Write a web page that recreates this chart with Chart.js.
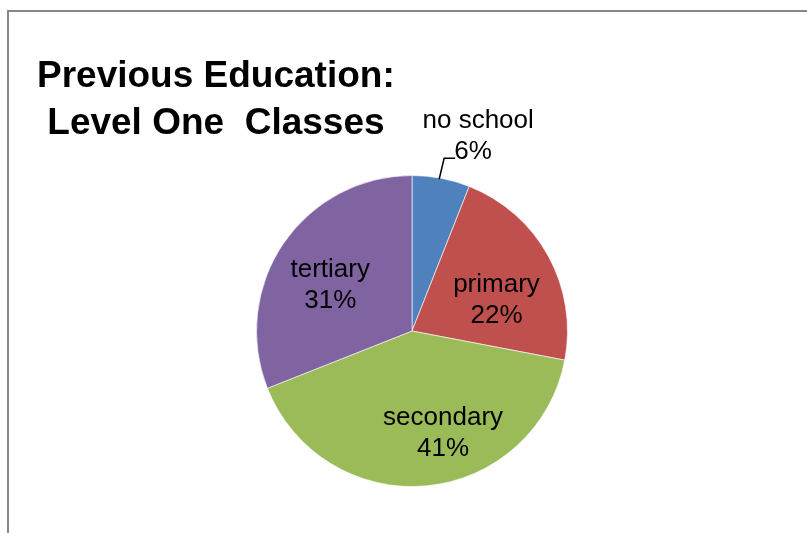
<!DOCTYPE html>
<html>
<head>
<meta charset="utf-8">
<title>Previous Education: Level One Classes</title>
<script src="https://cdn.jsdelivr.net/npm/chart.js@4"></script>
<style>
    body { margin: 0; overflow: hidden; background: #ffffff; }
    #wrap { position: relative; width: 807px; height: 533px; }
    #frame {
        position: absolute; left: 7px; top: 10px; width: 1000px; height: 1000px;
        border-left: 2px solid #878787; border-top: 2px solid #878787;
    }
    #myChart { position: absolute; left: 0; top: 0; }
</style>
</head>
<body>
<div id="wrap">
    <div id="frame"></div>
    <canvas id="myChart" width="807" height="533"></canvas>
</div>
<script>
// chart data
const categories = ['no school', 'primary', 'secondary', 'tertiary'];
const percents = [6, 22, 41, 31];
const sliceColors = ['#4F81BD', '#C0504D', '#9BBB59', '#8064A2'];
const titleLines = ['Previous Education:', ' Level One  Classes'];

// label placement: fraction of radius along the slice middle, then a nudge
const labelPlace = [
    { outside: true },
    { r: 0.62, dx: 0, dy: 16 },
    { r: 0.62, dx: 22, dy: 6 },
    { r: 0.62, dx: -2, dy: 9 }
];
const labelFont = '26px "Liberation Sans", Arial, sans-serif';
const lineGap = 31;

// Draws the two line title at the top left
const titlePlugin = {
    id: 'titleText',
    afterDraw(chart) {
        const ctx = chart.ctx;
        ctx.save();
        ctx.fillStyle = '#000000';
        ctx.font = 'bold 37px "Liberation Sans", Arial, sans-serif';
        ctx.textAlign = 'left';
        ctx.textBaseline = 'alphabetic';
        ctx.fillText(titleLines[0], 37, 87);
        ctx.fillText(titleLines[1], 37, 134);
        ctx.restore();
    }
};

// Category name and percent for each slice
const labelPlugin = {
    id: 'sliceLabels',
    afterDatasetsDraw(chart) {
        const ctx = chart.ctx;
        const meta = chart.getDatasetMeta(0);
        const total = percents.reduce((a, b) => a + b, 0);
        ctx.save();
        ctx.font = labelFont;
        ctx.fillStyle = '#000000';
        ctx.textAlign = 'center';
        ctx.textBaseline = 'middle';

        meta.data.forEach(function (arc, i) {
            const p = arc.getProps(['x', 'y', 'startAngle', 'endAngle', 'outerRadius'], true);
            const mid = (p.startAngle + p.endAngle) / 2;
            const pct = Math.round(percents[i] / total * 100) + '%';
            const place = labelPlace[i];
            let cx, cy;

            if (place.outside) {
                // leader line from the rim up and to the right
                const ex = p.x + Math.cos(mid) * p.outerRadius;
                const ey = p.y + Math.sin(mid) * p.outerRadius;
                const kx = ex + 3, ky = ey - 20;
                ctx.strokeStyle = '#000000';
                ctx.lineWidth = 1.5;
                ctx.beginPath();
                ctx.moveTo(ex - 2, ey + 1);
                ctx.lineTo(kx, ky);
                ctx.lineTo(kx + 11, ky);
                ctx.stroke();
                cx = kx + 34;
                cy = ky - 22;
                ctx.fillText(categories[i], cx, cy - lineGap / 2);
                ctx.fillText(pct, cx - 5, cy + lineGap / 2);
                return;
            }

            cx = p.x + Math.cos(mid) * p.outerRadius * place.r + place.dx;
            cy = p.y + Math.sin(mid) * p.outerRadius * place.r + place.dy;
            ctx.fillText(categories[i], cx, cy - lineGap / 2);
            ctx.fillText(pct, cx, cy + lineGap / 2);
        });
        ctx.restore();
    }
};

const config = {
    type: 'pie',
    data: {
        labels: categories,
        datasets: [{
            data: percents,
            backgroundColor: sliceColors,
            borderColor: 'rgba(255, 255, 255, 0.6)',
            borderWidth: 1
        }]
    },
    options: {
        responsive: false,
        animation: false,
        layout: {
            padding: { left: 256, right: 239, top: 175, bottom: 46 }
        },
        plugins: {
            legend: { display: false },
            tooltip: { enabled: false },
            title: { display: false }
        }
    },
    plugins: [titlePlugin, labelPlugin]
};

const myChart = new Chart(document.getElementById('myChart'), config);
</script>
</body>
</html>
